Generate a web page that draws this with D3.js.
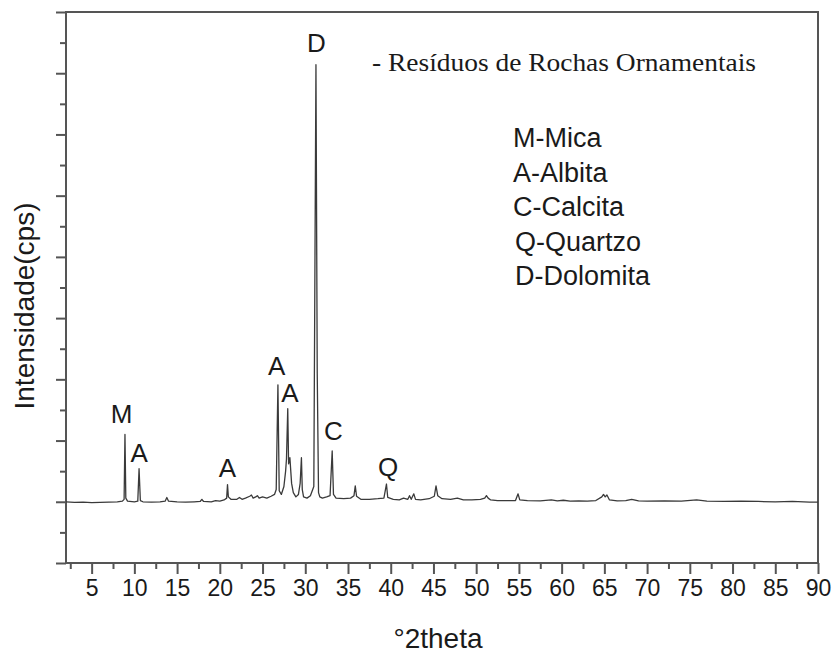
<!DOCTYPE html>
<html>
<head>
<meta charset="utf-8">
<script src="https://cdn.jsdelivr.net/npm/d3@7"></script>
<style>
  body { margin: 0; background: #fff; }
  svg { display: block; }
  text { fill: #1a1a1a; }
</style>
</head>
<body>
<svg id="chart" width="834" height="653" font-family="'Liberation Sans', Arial, sans-serif"></svg>
<script>
// 2theta positions of the diffractogram points
var twoTheta = [
  2.0, 3.0, 4.0, 5.0, 6.0, 7.0, 8.0, 8.6, 8.8, 8.9, 9.0, 9.2,
  10.0, 10.4, 10.55, 10.7, 11.0, 12.0, 13.0, 13.6, 13.8, 14.0, 15.0, 16.0,
  17.0, 17.7, 17.9, 18.1, 19.0, 19.5, 20.0, 20.5, 20.8, 20.9, 21.0, 21.3,
  22.0, 22.3, 22.6, 23.0, 23.5, 23.7, 23.9, 24.2, 24.4, 24.6, 25.0, 25.5,
  26.0, 26.4, 26.6, 26.8, 26.95, 27.2, 27.5, 27.7, 27.8, 27.95, 28.05, 28.2,
  28.4, 28.6, 28.9, 29.2, 29.4, 29.55, 29.65, 29.8, 30.2, 30.6, 31.0, 31.25,
  31.4, 31.55, 31.7, 32.0, 32.5, 32.9, 33.15, 33.3, 33.6, 34.5, 35.3, 35.7,
  35.85, 36.0, 36.5, 37.5, 38.5, 39.2, 39.5, 39.65, 40.3, 41.0, 41.5, 42.0,
  42.2, 42.4, 42.7, 42.9, 43.5, 44.5, 45.1, 45.3, 45.5, 46.0, 47.0, 47.8,
  48.5, 49.5, 50.5, 51.0, 51.2, 51.4, 51.7, 52.5, 53.5, 54.6, 54.9, 55.1,
  56.0, 57.5, 58.8, 59.5, 60.2, 61.0, 62.0, 63.0, 64.0, 64.7, 64.9, 65.1,
  65.3, 65.6, 66.5, 67.5, 68.2, 69.0, 70.0, 72.0, 74.0, 75.8, 77.0, 79.0,
  81.0, 83.0, 85.0, 87.0, 89.0, 90.0
]

// intensity (cps, arbitrary scale) for each 2theta point
var intensity = [
  0, -10, -5, -15, -10, -5, 0, 10, 40, 1100, 60, 10,
  0, 10, 540, 20, 0, -5, 0, 10, 70, 10, 0, -5,
  0, 5, 40, 5, 0, 20, 10, 30, 60, 280, 80, 40,
  40, 70, 40, 60, 90, 110, 60, 80, 100, 60, 80, 60,
  90, 120, 200, 1910, 180, 120, 250, 500, 700, 1520, 620, 720,
  300, 150, 80, 120, 300, 720, 200, 80, 60, 100, 250, 7140,
  2100, 150, 80, 60, 80, 100, 830, 120, 60, 50, 60, 100,
  260, 90, 40, 40, 50, 60, 290, 70, 40, 30, 60, 40,
  100, 40, 130, 40, 30, 50, 90, 260, 100, 50, 40, 60,
  30, 30, 40, 60, 100, 60, 30, 20, 20, 20, 130, 30,
  20, 15, 30, 15, 25, 10, 15, 10, 20, 80, 120, 80,
  110, 30, 15, 20, 40, 15, 10, 15, 10, 30, 10, 5,
  10, 5, 0, 5, -5, -5
]

// phase letters placed over the peaks
var peakLetters = ['M', 'A', 'A', 'A', 'A', 'D', 'C', 'Q']
var peakLetterPos = [8.5, 10.55, 20.9, 26.65, 28.2, 31.3, 33.3, 39.7]
var peakLetterLevel = [1290, 650, 410, 2075, 1635, 7340, 1015, 425]

// phase legend
var legendLines = ['M-Mica', 'A-Albita', 'C-Calcita', 'Q-Quartzo', 'D-Dolomita']
var sampleName = '- Resíduos de Rochas Ornamentais'

var xTicks = d3.range(5, 91, 5)
var xMinorTicks = d3.range(2.5, 90, 5)
var yTicks = d3.range(-1000, 8001, 1000)
var yMinorTicks = d3.range(-500, 8000, 1000)

var margin = { left: 66, right: 16, top: 12, bottom: 90 }
var width = 834 - margin.left - margin.right
var height = 653 - margin.top - margin.bottom

var svg = d3.select('#chart')
var g = svg.append('g')
  .attr('transform', 'translate(' + margin.left + ',' + margin.top + ')')

var x = d3.scaleLinear().domain([2, 90]).range([0, width])
var y = d3.scaleLinear().domain([-1000, 8000]).range([height, 0])

/**
 * Styles an axis group so it looks like the plotting program's frame.
 *
 * @param {*} sel The axis selection
 */
function styleAxis (sel) {
  sel.select('.domain').remove()
  sel.selectAll('line').attr('stroke', '#555').attr('stroke-width', 2)
  sel.attr('font-family', null)
}

// x axis: major ticks with labels, minor ticks without
g.append('g')
  .attr('transform', 'translate(0,' + height + ')')
  .call(d3.axisBottom(x).tickValues(xTicks).tickSize(11).tickPadding(6).tickFormat(d3.format('d')))
  .call(styleAxis)
  .call(sel => sel.selectAll('text')
    .attr('font-size', 23)
    .attr('fill', '#1a1a1a'))

g.append('g')
  .attr('transform', 'translate(0,' + height + ')')
  .call(d3.axisBottom(x).tickValues(xMinorTicks).tickSize(6).tickFormat(''))
  .call(styleAxis)

// y axis: ticks only, no labels
g.append('g')
  .call(d3.axisLeft(y).tickValues(yTicks).tickSize(10).tickFormat(''))
  .call(styleAxis)

g.append('g')
  .call(d3.axisLeft(y).tickValues(yMinorTicks).tickSize(6).tickFormat(''))
  .call(styleAxis)

// frame
g.append('rect')
  .attr('x', 0)
  .attr('y', 0)
  .attr('width', width)
  .attr('height', height)
  .attr('fill', 'none')
  .attr('stroke', '#555')
  .attr('stroke-width', 2)

// diffractogram trace
var points = twoTheta.map((t, i) => [t, intensity[i]])
var line = d3.line()
  .x(d => x(d[0]))
  .y(d => y(d[1]))

g.append('path')
  .datum(points)
  .attr('fill', 'none')
  .attr('stroke', '#3a3a3a')
  .attr('stroke-width', 1.3)
  .attr('stroke-linejoin', 'round')
  .attr('d', line)

// letters over the peaks
g.selectAll('.peak-letter')
  .data(peakLetters)
  .enter()
  .append('text')
  .attr('class', 'peak-letter')
  .attr('x', (d, i) => x(peakLetterPos[i]))
  .attr('y', (d, i) => y(peakLetterLevel[i]))
  .attr('text-anchor', 'middle')
  .attr('font-size', 26)
  .text(d => d)

// sample name, in the serif font of the original figure
svg.append('text')
  .attr('x', 372)
  .attr('y', 71)
  .style('font-family', "'Liberation Serif', 'Times New Roman', serif")
  .attr('font-size', 25)
  .attr('textLength', 384)
  .attr('lengthAdjust', 'spacingAndGlyphs')
  .text(sampleName)

// phase legend
svg.selectAll('.legend-line')
  .data(legendLines)
  .enter()
  .append('text')
  .attr('class', 'legend-line')
  .attr('x', (d, i) => i < 3 ? 513 : 515)
  .attr('y', (d, i) => 147 + i * 34.5)
  .attr('font-size', 27)
  .text(d => d)

// axis titles
svg.append('text')
  .attr('x', 438)
  .attr('y', 648)
  .attr('text-anchor', 'middle')
  .attr('font-size', 28)
  .text('°2theta')

svg.append('text')
  .attr('transform', 'translate(34,306) rotate(-90)')
  .attr('text-anchor', 'middle')
  .attr('font-size', 28)
  .text('Intensidade(cps)')
</script>
</body>
</html>
